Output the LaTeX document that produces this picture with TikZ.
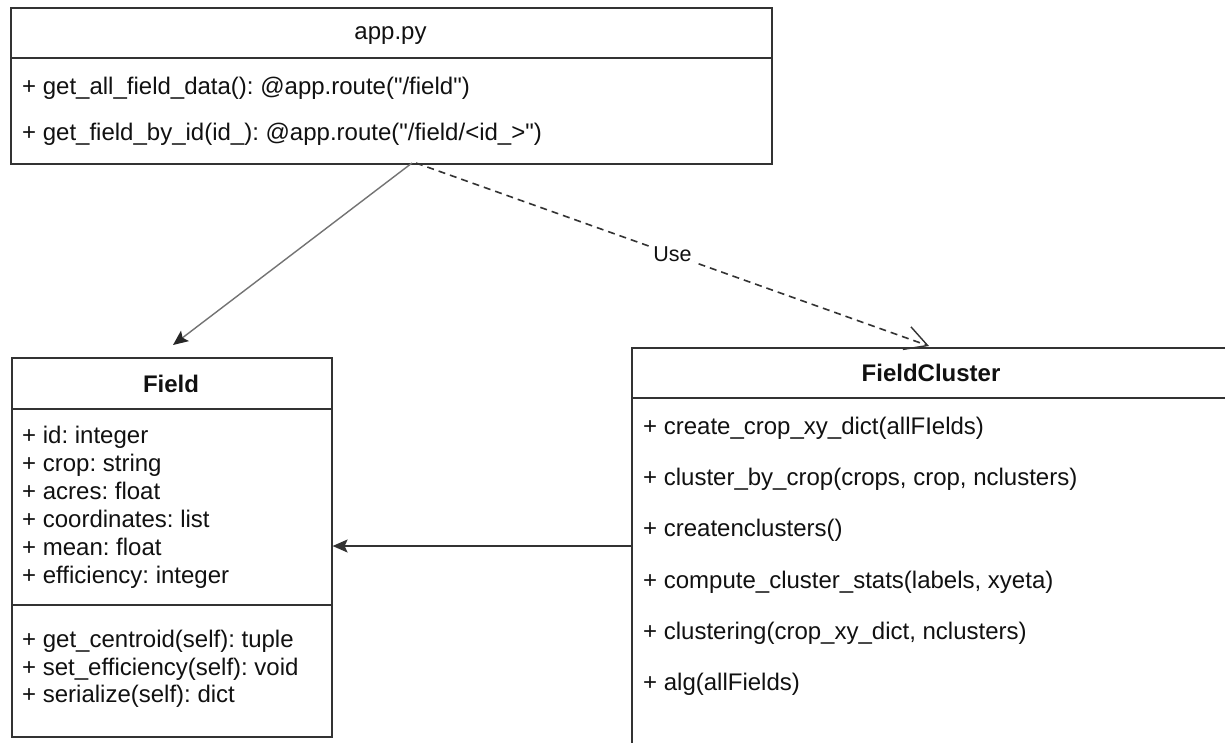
\documentclass[tikz,border=0pt]{standalone}
\usepackage{fontspec}
\setmainfont{Liberation Sans}[Ligatures=TeXOff]
\usetikzlibrary{arrows.meta}
\definecolor{linec}{HTML}{333333}
\definecolor{textc}{HTML}{111111}
\frenchspacing
\begin{document}
\begin{tikzpicture}[x=1pt,y=-1pt,
  classbox/.style={draw=linec, line width=1.6pt, fill=none, anchor=north west, inner sep=0pt},
  divider/.style={draw=linec, line width=1.6pt},
  member/.style={anchor=base west, inner sep=0pt, font=\fontsize{24}{28}\selectfont, text=textc},
  ctitle/.style={anchor=base, inner sep=0pt, font=\fontsize{24}{28}\selectfont, text=textc},
  btitle/.style={anchor=base, inner sep=0pt, font=\fontsize{24}{28}\selectfont\bfseries, text=textc},
  assoc/.style={draw=black!55, line width=1.4pt, -{Stealth[length=15pt,width=13pt,inset=3pt,color=black!85]}},
  dep/.style={draw=linec, line width=1.6pt, dash pattern=on 7pt off 5pt, -{Straight Barb[length=22pt,width=24pt,line width=1.4pt]}},
  link/.style={draw=linec, line width=1.5pt, -{Stealth[length=15pt,width=13pt,inset=3pt]}},
  lbl/.style={fill=white, inner sep=2pt, font=\fontsize{21.5}{24}\selectfont, text=textc}
]
\useasboundingbox (0,0) rectangle (1225,742);
\clip (0,0) rectangle (1225,742);
\fill[white] (0,0) rectangle (1225,742);

% app.py
\node[classbox, minimum width=761pt, minimum height=156pt] (app) at (10,7) {};
\draw[divider] (10,58) -- (771,58);
\node[ctitle] (apptitle) at (390.5,39) {app.py};
\node[member] (am1) at (22,94) {+ get\_all\_field\_data(): @app.route("/field")};
\node[member] (am2) at (22,140) {+ get\_field\_by\_id(id\_): @app.route("/field/<id\_>")};

% Field
\node[classbox, minimum width=320pt, minimum height=379pt] (field) at (11,357) {};
\draw[divider] (11,409) -- (331,409);
\draw[divider] (11,605) -- (331,605);
\node[btitle] (fieldtitle) at (171,392) {Field};
\node[member] (fa1) at (22,443) {+ id: integer};
\node[member] (fa2) at (22,471) {+ crop: string};
\node[member] (fa3) at (22,499) {+ acres: float};
\node[member] (fa4) at (22,527) {+ coordinates: list};
\node[member] (fa5) at (22,555) {+ mean: float};
\node[member] (fa6) at (22,583) {+ efficiency: integer};
\node[member] (fm1) at (22,647) {+ get\_centroid(self): tuple};
\node[member] (fm2) at (22,675) {+ set\_efficiency(self): void};
\node[member] (fm3) at (22,702) {+ serialize(self): dict};

% FieldCluster
\node[classbox, minimum width=600pt, minimum height=420pt] (fc) at (631,347) {};
\draw[divider] (631,398) -- (1231,398);
\node[btitle] (fctitle) at (931,381) {FieldCluster};
\node[member] (c1) at (643,434) {+ create\_crop\_xy\_dict(allFIelds)};
\node[member] (c2) at (643,485) {+ cluster\_by\_crop(crops, crop, nclusters)};
\node[member] (c3) at (643,536) {+ createnclusters()};
\node[member] (c4) at (643,588) {+ compute\_cluster\_stats(labels, xyeta)};
\node[member] (c5) at (643,639) {+ clustering(crop\_xy\_dict, nclusters)};
\node[member] (c6) at (643,690) {+ alg(allFields)};

% connectors
\coordinate (appA) at (412,163);
\coordinate (fieldTip) at (173,345);
\draw[assoc] (appA) -- (fieldTip);

\coordinate (appB) at (416,163);
\coordinate (fcTip) at (929,346);
\draw[dep] (appB) -- node[lbl] (uselbl) {Use} (fcTip);

\coordinate (hy) at (0,546);
\draw[link] (fc.west |- hy) -- (field.east |- hy);
\end{tikzpicture}
\end{document}
